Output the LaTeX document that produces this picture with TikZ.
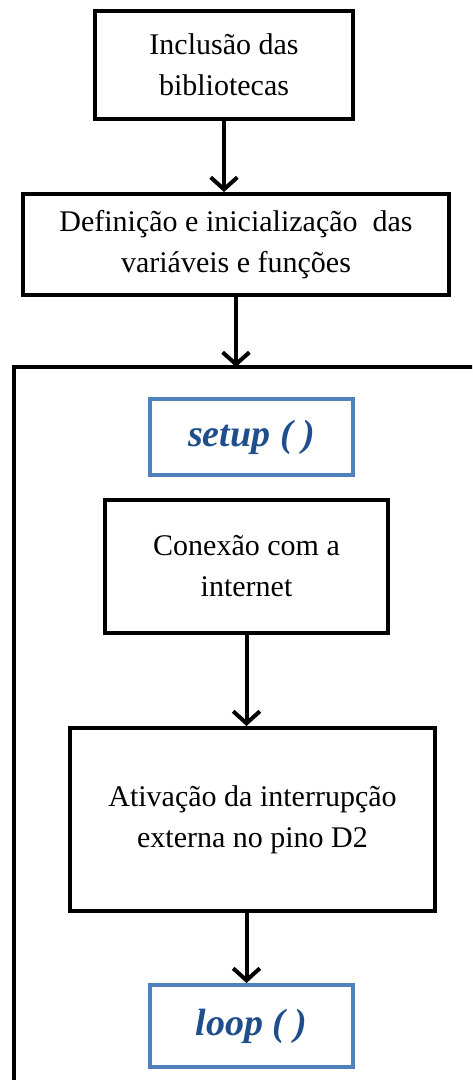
\documentclass[tikz,border=0pt]{standalone}
\usepackage{fontspec}
\setmainfont{Liberation Serif}
\usetikzlibrary{arrows.meta}
\definecolor{boxBlue}{HTML}{4F81BD}
\definecolor{textBlue}{HTML}{1F4E8C}
\begin{document}
\begin{tikzpicture}
[x=0.75pt,y=-0.75pt,
  darkArrow/.style={-{Straight Barb[length=9pt,width=20pt]},line width=3pt},%
  stepBox/.style={shape=rectangle,draw,line width=3pt,align=center,
    font=\fontsize{22.5}{30.75}\selectfont},%
  titleBox/.style={shape=rectangle,draw=boxBlue,line width=3pt,text=textBlue,
    minimum width=152.25pt,font=\fontsize{28.5}{34}\selectfont\bfseries\itshape}]
\clip (0,0) rectangle (472,1080);
%% nodes
\node (inc) at (224,65) [stepBox,minimum width=193.5pt,minimum height=81pt]
  {Inclusão das\\bibliotecas};
\node (def) at (236,244.5) [stepBox,minimum width=319.5pt,minimum height=75.75pt]
  {Definição e inicialização~ das\\variáveis e funções};
\node (setup) at (251.5,437) [titleBox,minimum height=57pt] {setup ( )};
\node (con) at (246.5,566.5) [stepBox,minimum width=212.25pt,minimum height=99.75pt]
  {Conexão com a\\internet};
\node (ativ) at (252.5,819.5) [stepBox,minimum width=273.75pt,minimum height=137.25pt]
  {Ativação da interrupção\\externa no pino D2};
\node (loop) at (251.5,1026) [titleBox,minimum height=61.5pt] {loop ( )};
%% outer frame
\coordinate (frm) at (14,367);
\draw[line width=3pt] (frm) rectangle (560,1140);
%% edges
\path
\foreach \startnode/\endnode in {inc/def, con/ativ}
{
  (\startnode.south) edge[darkArrow] (\startnode.south |- \endnode.north)
}
(def.south) edge[darkArrow] (def.south |- frm)
(ativ.south -| con.south) edge[darkArrow] (con.south |- loop.north);
\end{tikzpicture}
\end{document}
